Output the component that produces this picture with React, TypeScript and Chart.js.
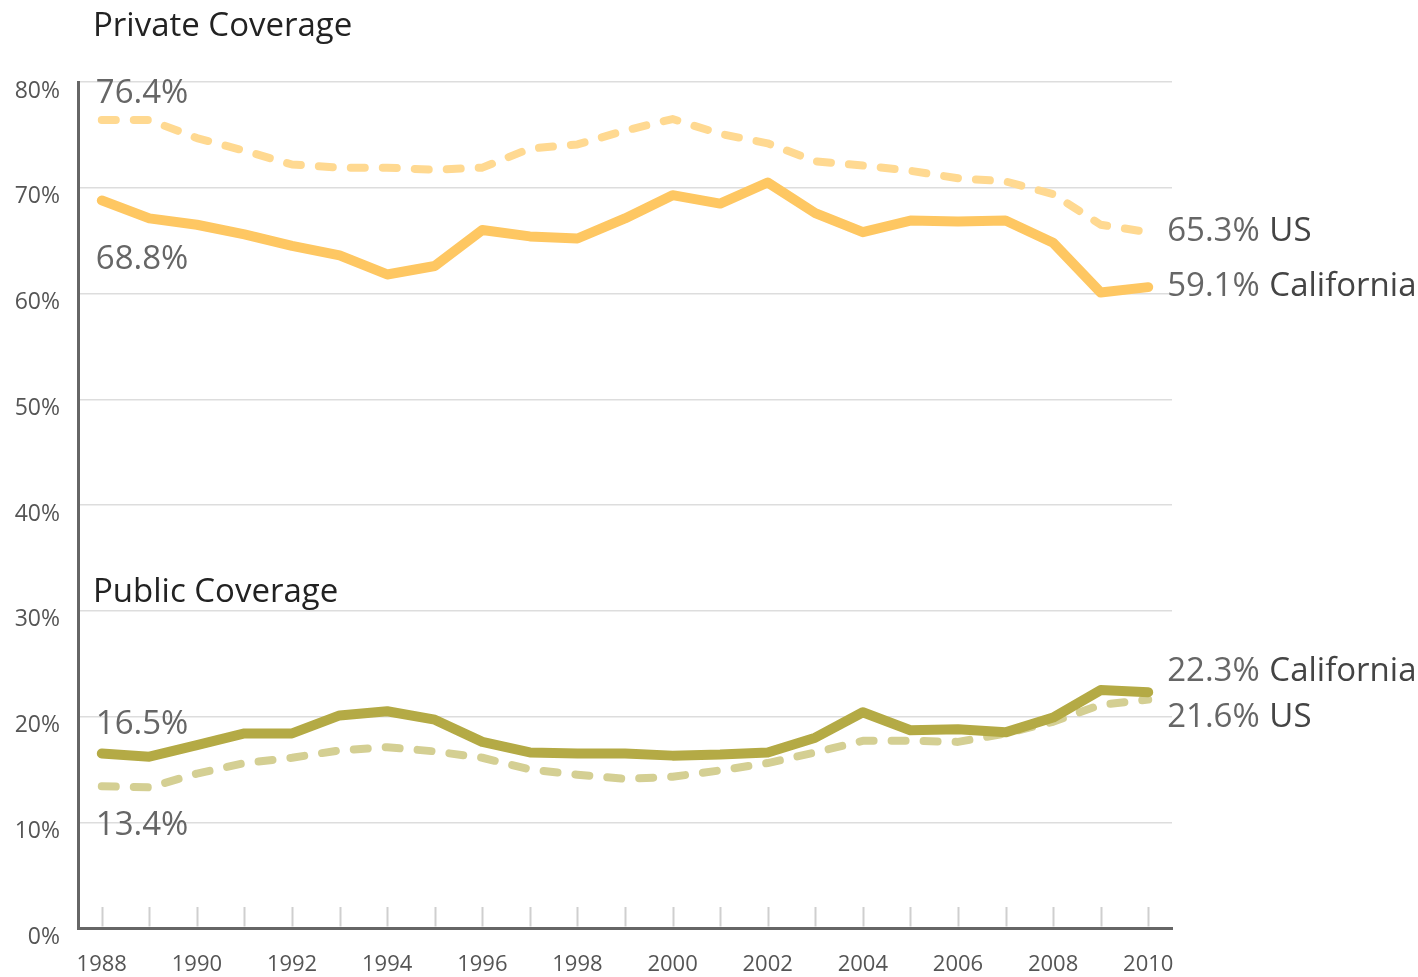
import React, { useEffect, useRef } from "react";
import { Chart, registerables } from "chart.js";

Chart.register(...registerables);

const years = ["1988", "1989", "1990", "1991", "1992", "1993", "1994", "1995", "1996", "1997", "1998", "1999", "2000", "2001", "2002", "2003", "2004", "2005", "2006", "2007", "2008", "2009", "2010"];

const privateCA = [68.8, 67.1, 66.5, 65.6, 64.5, 63.6, 61.8, 62.6, 66.0, 65.4, 65.2, 67.1, 69.3, 68.5, 70.5, 67.6, 65.8, 66.9, 66.8, 66.9, 64.8, 60.1, 60.6];
const privateUS = [76.4, 76.4, 74.7, 73.5, 72.2, 71.9, 71.9, 71.7, 71.9, 73.7, 74.1, 75.4, 76.5, 75.1, 74.2, 72.5, 72.1, 71.6, 70.9, 70.6, 69.4, 66.5, 65.8];
const publicCA = [16.5, 16.2, 17.3, 18.4, 18.4, 20.1, 20.5, 19.7, 17.6, 16.6, 16.5, 16.5, 16.3, 16.4, 16.6, 18.0, 20.4, 18.7, 18.8, 18.5, 19.9, 22.5, 22.3];
const publicUS = [13.4, 13.3, 14.6, 15.6, 16.1, 16.8, 17.1, 16.7, 16.1, 15.0, 14.5, 14.1, 14.3, 14.9, 15.6, 16.6, 17.7, 17.7, 17.6, 18.4, 19.5, 21.1, 21.6];

const yTicks = [0, 10, 20, 30, 40, 50, 60, 70, 80];

const sectionTitles = ["Private Coverage", "Public Coverage"];
// start labels: [datasetIndex, text, vertical offset from first point]
const startLabels: [number, string, number][] = [
  [1, "76.4%", -29],
  [0, "68.8%", 57],
  [2, "16.5%", -31],
  [3, "13.4%", 37],
];
// end labels: [datasetIndex, value text, name, vertical offset from last point]
const endLabels: [number, string, string, number][] = [
  [1, "65.3%", "US", -3],
  [0, "59.1%", "California", -3],
  [2, "22.3%", "California", -23],
  [3, "21.6%", "US", 16],
];

const FONT = '"Open Sans", "Noto Sans", sans-serif';

const decorPlugin = {
  id: "decor",
  beforeDatasetsDraw(chart: any) {
    const { ctx, chartArea, scales } = chart;
    const x = scales.x;
    ctx.save();
    ctx.strokeStyle = "#cfcfcf";
    ctx.lineWidth = 2;
    for (let i = 0; i < years.length; i++) {
      const px = Math.round(x.getPixelForValue(i)) + 0.5;
      ctx.beginPath();
      ctx.moveTo(px, chartArea.bottom - 21);
      ctx.lineTo(px, chartArea.bottom - 1.5);
      ctx.stroke();
    }
    ctx.restore();
  },
  afterDraw(chart: any) {
    const { ctx, chartArea, scales } = chart;
    const x = scales.x;
    const y = scales.y;
    ctx.save();
    ctx.textBaseline = "alphabetic";
    ctx.textAlign = "left";
    // section titles
    ctx.font = `33px ${FONT}`;
    ctx.fillStyle = "#222";
    ctx.fillText(sectionTitles[0], chartArea.left + 15, chartArea.top - 58.5 + 12);
    ctx.fillText(sectionTitles[1], chartArea.left + 15, y.getPixelForValue(30) - 20.5 + 12);

    const size = 33;
    const base = size * 0.357;
    ctx.font = `${size}px ${FONT}`;
    const firstX = x.getPixelForValue(0);
    const lastX = x.getPixelForValue(years.length - 1);
    startLabels.forEach(([di, txt, off]) => {
      const v = chart.data.datasets[di].data[0] as number;
      const py = y.getPixelForValue(v) + off;
      ctx.fillStyle = "#666";
      ctx.fillText(txt, firstX - 6, py + base);
    });
    endLabels.forEach(([di, txt, name, off]) => {
      const data = chart.data.datasets[di].data as number[];
      const v = data[data.length - 1];
      const py = y.getPixelForValue(v) + off;
      ctx.fillStyle = "#666";
      const tx = lastX + 19;
      ctx.fillText(txt, tx, py + base);
      const w = ctx.measureText(txt + " ").width;
      ctx.fillStyle = "#444";
      ctx.fillText(name, tx + w + 1, py + base);
    });
    ctx.restore();
  },
};

export default function App() {
  const ref = useRef<HTMLCanvasElement>(null);
  useEffect(() => {
    document.body.style.margin = "0";
    const canvas = ref.current!;
    const solid = {
      borderWidth: 10,
      pointRadius: 0,
      tension: 0,
      borderJoinStyle: "round" as const,
      borderCapStyle: "round" as const,
    };
    const dashed = {
      borderWidth: 8,
      pointRadius: 0,
      tension: 0,
      borderDash: [14, 18],
      borderJoinStyle: "round" as const,
      borderCapStyle: "round" as const,
    };
    const chart = new Chart(canvas, {
      type: "line",
      data: {
        labels: years,
        datasets: [
          { label: "Private California", data: privateCA, borderColor: "#FEC762", ...solid },
          { label: "Private US", data: privateUS, borderColor: "#FFD991", ...dashed },
          { label: "Public California", data: publicCA, borderColor: "#B4AA45", ...solid },
          { label: "Public US", data: publicUS, borderColor: "#D4CF93", ...dashed },
        ],
      },
      options: {
        responsive: false,
        animation: false,
        devicePixelRatio: 1,
        layout: { padding: { top: 82, right: 246, left: 0, bottom: 0 } },
        plugins: { legend: { display: false }, tooltip: { enabled: false }, title: { display: false } },
        scales: {
          x: {
            type: "category",
            offset: true,
            grid: { display: true, color: "rgba(0,0,0,0)", drawOnChartArea: false, drawTicks: false },
            border: { display: true, color: "#666", width: 3 },
            ticks: {
              autoSkip: false,
              maxRotation: 0,
              minRotation: 0,
              padding: 24,
              color: "#555",
              font: { family: FONT, size: 22 },
              callback: (_v: any, i: number) => (i % 2 === 0 ? years[i] : ""),
            },
            afterFit: (s: any) => {
              s.height = 49;
            },
          },
          y: {
            min: yTicks[0],
            max: yTicks[yTicks.length - 1],
            grid: { color: "#dddddd", lineWidth: 1.5, drawTicks: false },
            border: { display: true, color: "#666", width: 3 },
            ticks: {
              stepSize: 10,
              padding: 18,
              labelOffset: 9,
              color: "#555",
              font: { family: FONT, size: 23 },
              callback: (v: any) => `${v}%`,
            },
            afterFit: (s: any) => {
              s.width = 78;
            },
          },
        },
      },
      plugins: [decorPlugin],
    });
    return () => chart.destroy();
  }, []);
  return (
    <div style={{ width: 1418, height: 977, background: "#fff" }}>
      <canvas ref={ref} width={1418} height={977} style={{ display: "block" }} />
    </div>
  );
}
